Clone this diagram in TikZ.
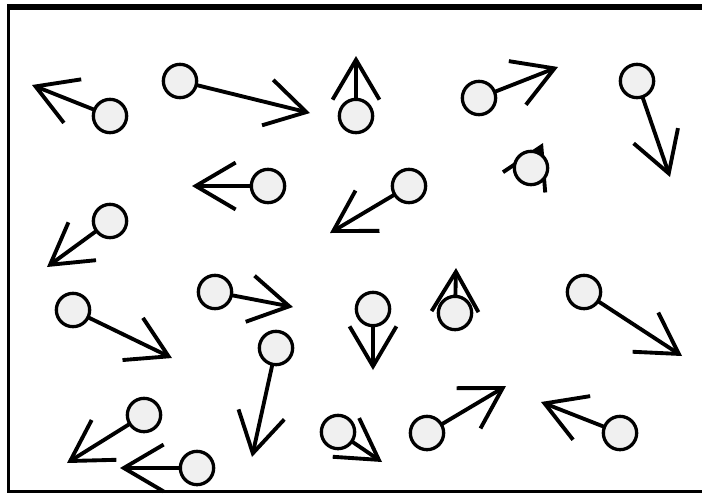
\documentclass[tikz,border=0pt]{standalone}
\usepackage{tikz}
\usetikzlibrary{arrows.meta, backgrounds}

\begin{document}
\begin{tikzpicture}[x=0.03cm, y=-0.03cm,
            particle/.style={circle, draw, line width=2.8pt, fill=gray!12, minimum size=1.0cm, inner sep=0pt},
            velocity/.style={-{Straight Barb[sharp, length=34pt, width=40pt]}, line width=3.3pt}
        ]
            \useasboundingbox (0,0) rectangle (702,493);
            \clip (0,0) rectangle (702,493);

            % Container walls
            \draw[line width=2.8pt] (720,491.5) -- (8.5,491.5) -- (8.5,7);
            \draw[line width=5.2pt] (7,7) -- (720,7);

            % Particles
            \node[particle] (p1) at (110,116) {};
            \node[particle] (p2) at (180,81) {};
            \node[particle] (p3) at (356,116) {};
            \node[particle] (p4) at (479,98) {};
            \node[particle] (p5) at (637,81) {};
            \node[particle] (p6) at (268,186) {};
            \node[particle] (p7) at (409,186) {};
            \node[particle] (p8) at (531,168) {};
            \node[particle] (p9) at (110,221) {};
            \node[particle] (p10) at (73,310) {};
            \node[particle] (p11) at (215,292) {};
            \node[particle] (p12) at (276,348) {};
            \node[particle] (p13) at (373,309) {};
            \node[particle] (p14) at (455,313) {};
            \node[particle] (p15) at (584,292) {};
            \node[particle] (p16) at (144,415) {};
            \node[particle] (p17) at (197,468) {};
            \node[particle] (p18) at (338,432) {};
            \node[particle] (p19) at (427,433) {};
            \node[particle] (p20) at (620,433) {};

            % Velocity tips
            \coordinate (v1) at (32,85);
            \coordinate (v2) at (310,113);
            \coordinate (v3) at (356,56);
            \coordinate (v4) at (558,67);
            \coordinate (v5) at (670,177);
            \coordinate (v6) at (192,186);
            \coordinate (v7) at (330,233);
            \coordinate (v8) at (543,143);
            \coordinate (v9) at (47,267);
            \coordinate (v10) at (172,358);
            \coordinate (v11) at (293,307);
            \coordinate (v12) at (252,457);
            \coordinate (v13) at (373,370);
            \coordinate (v14) at (456,268);
            \coordinate (v15) at (682,356);
            \coordinate (v16) at (67,463);
            \coordinate (v17) at (120,468);
            \coordinate (v18) at (382,462);
            \coordinate (v19) at (506,386);
            \coordinate (v20) at (541,402);

            % Velocity arrows, behind the particles
            \begin{scope}[on background layer]
                \fill[white] (0,0) rectangle (702,493);
                \draw[velocity] (p1.center) -- (v1);
                \draw[velocity] (p2.center) -- (v2);
                \draw[velocity] (p3.center) -- (v3);
                \draw[velocity] (p4.center) -- (v4);
                \draw[velocity] (p5.center) -- (v5);
                \draw[velocity] (p6.center) -- (v6);
                \draw[velocity] (p7.center) -- (v7);
                \draw[velocity] (p8.center) -- (v8);
                \draw[velocity] (p9.center) -- (v9);
                \draw[velocity] (p10.center) -- (v10);
                \draw[velocity] (p11.center) -- (v11);
                \draw[velocity] (p12.center) -- (v12);
                \draw[velocity] (p13.center) -- (v13);
                \draw[velocity] (p14.center) -- (v14);
                \draw[velocity] (p15.center) -- (v15);
                \draw[velocity] (p16.center) -- (v16);
                \draw[velocity] (p17.center) -- (v17);
                \draw[velocity] (p18.center) -- (v18);
                \draw[velocity] (p19.center) -- (v19);
                \draw[velocity] (p20.center) -- (v20);
            \end{scope}
        \end{tikzpicture}
\end{document}
